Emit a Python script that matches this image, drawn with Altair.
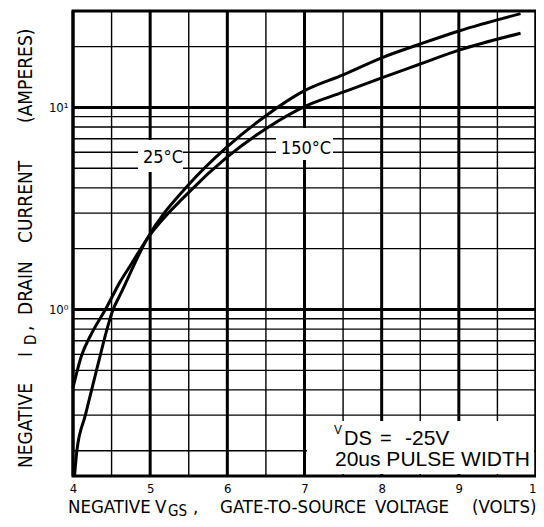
import altair as alt
import pandas as pd

# ---- data ----
vgs_25 = [4.02, 4.05, 4.16, 4.31, 4.52, 4.61, 4.955, 5.5, 6.0, 6.5, 7.0, 7.5, 8.0, 8.5, 9.0, 9.8]
id_25 = [0.15, 0.20, 0.30, 0.51, 1.0, 1.18, 2.22, 4.15, 6.4, 9.1, 12.1, 14.5, 17.6, 20.6, 23.9, 29.1]
vgs_150 = [4.0, 4.11, 4.24, 4.42, 4.61, 4.76, 4.955, 5.5, 6.0, 6.5, 7.0, 7.5, 8.0, 8.5, 9.0, 9.8]
id_150 = [0.41, 0.59, 0.76, 1.0, 1.37, 1.69, 2.22, 3.8, 5.69, 7.85, 10.1, 11.9, 14.0, 16.4, 19.2, 23.3]

x_ticks = [4, 5, 6, 7, 8, 9, 10]
x_minor = [4.5, 5.5, 6.5, 7.5, 8.5, 9.5]
y_major = [1, 10]
y_minor = [0.2, 0.3, 0.4, 0.5, 0.6, 0.7, 0.8, 0.9, 2, 3, 4, 5, 6, 7, 8, 9, 20]

FONT = "Liberation Sans Narrow, DejaVu Sans Condensed, Liberation Sans, sans-serif"
FONT2 = "Liberation Sans, DejaVu Sans, sans-serif"

curves = pd.concat([
    pd.DataFrame({"series": "25", "vgs": vgs_25, "id": id_25}),
    pd.DataFrame({"series": "150", "vgs": vgs_150, "id": id_150}),
])

x_scale = alt.Scale(domain=[4, 10], nice=False, zero=False)
y_scale = alt.Scale(type="log", domain=[0.15, 30], nice=False)

x_axis = alt.Axis(values=x_ticks, format="d", title=None, ticks=False, domain=False, grid=False,
                  labelFont=FONT, labelFontSize=13, labelColor="black", labelPadding=6,
                  labelFlush=False)
y_axis = alt.Axis(values=y_major, title=None, ticks=False, domain=False, grid=False,
                  labelExpr="datum.value == 1 ? '10⁰' : '10¹'",
                  labelFont=FONT, labelFontSize=13, labelColor="black", labelPadding=5)


def vrules(vals, w):
    return alt.Chart(pd.DataFrame({"v": vals})).mark_rule(color="black", strokeWidth=w).encode(
        x=alt.X("v:Q", scale=x_scale, axis=x_axis))


def hrules(vals, w):
    return alt.Chart(pd.DataFrame({"v": vals})).mark_rule(color="black", strokeWidth=w).encode(
        y=alt.Y("v:Q", scale=y_scale, axis=y_axis))


one = alt.Data(values=[{"a": 1}])


def box(x1, x2, y1, y2):
    return alt.Chart(one).mark_rect(color="white").encode(
        x=alt.value(x1), x2=alt.value(x2), y=alt.value(y1), y2=alt.value(y2))


def txt(s, x, y, size=18.5, angle=0, font=FONT, align="left", baseline="alphabetic"):
    kw = dict(text=s, font=font, fontSize=size, align=align, baseline=baseline, color="black")
    if angle:
        kw["angle"] = angle
    return alt.Chart(one).mark_text(**kw).encode(x=alt.value(x), y=alt.value(y))


lines = alt.Chart(curves).mark_line(color="black", strokeWidth=3, interpolate="monotone").encode(
    x=alt.X("vgs:Q", scale=x_scale, axis=x_axis),
    y=alt.Y("id:Q", scale=y_scale, axis=y_axis),
    detail="series:N",
    order="vgs:Q",
)

layers = [
    hrules(y_minor, 1.4),
    vrules(x_minor, 1.4),
    hrules(y_major, 3),
    vrules(x_ticks, 3),
    box(65, 110, 129, 161),
    box(203, 260, 117, 149),
    box(234, 461, 410, 463),
    lines,
    txt("25°C", 90, 152, size=18, align="center"),
    txt("150°C", 233, 143, size=18, align="center"),
    txt("V", 261, 423, size=12, font=FONT2),
    txt("DS", 271, 434, size=20, font=FONT2),
    txt("=", 307, 434, size=20, font=FONT2),
    txt("-25V", 332, 434, size=21, font=FONT2),
    txt("20us PULSE WIDTH", 262, 455, size=21, font=FONT2),
    # x title
    txt("NEGATIVE", -5, 502),
    txt("V", 82, 502),
    txt("GS", 95, 505, size=15),
    txt(",", 120, 502),
    txt("GATE-TO-SOURCE", 147, 502),
    txt("VOLTAGE", 302, 502),
    txt("(VOLTS)", 399, 502),
    # y title
    txt("NEGATIVE", -41, 457, angle=270, size=19),
    txt("I", -41, 346, angle=270, size=19),
    txt("D", -37, 334, size=15, angle=270),
    txt(",", -41, 320, angle=270, size=19),
    txt("DRAIN", -41, 304, angle=270, size=19),
    txt("CURRENT", -41, 232, angle=270, size=19),
    txt("(AMPERES)", -41, 112, angle=270, size=19),
]

chart = alt.layer(*layers).properties(
    width=463, height=465,
    padding={"left": 65, "top": 3, "right": 0, "bottom": 43},
    autosize=alt.AutoSizeParams(type="none"),
    background="white",
).configure_view(stroke="black", strokeWidth=3)

chart.save("out.html", embed_options={"renderer": "svg", "actions": False})
